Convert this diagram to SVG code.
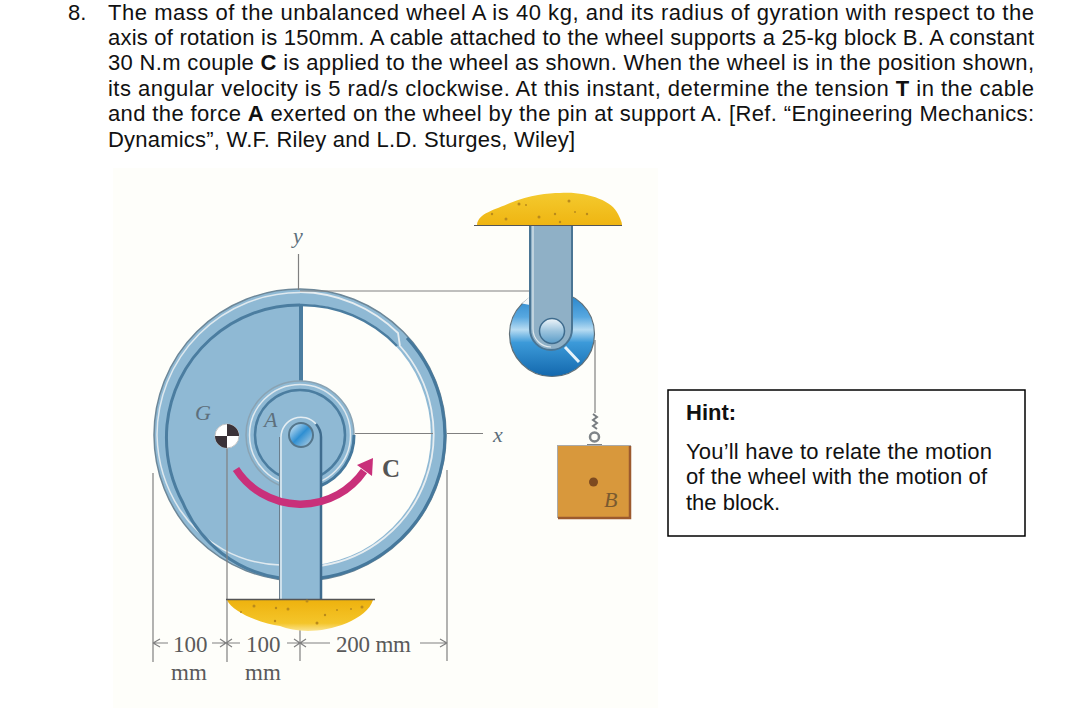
<svg xmlns="http://www.w3.org/2000/svg" width="1082" height="714" viewBox="0 0 1082 714">
<style>
.t{font-family:"Liberation Sans",Arial,sans-serif;font-size:22px;fill:#111}
.s{font-family:"Liberation Serif","Times New Roman",serif;font-style:italic;font-size:22px;fill:#5d6f7c}
.d{font-family:"Liberation Serif","Times New Roman",serif;font-size:23px;fill:#5a5a5a}
.l{fill:none;stroke:#808080;stroke-width:1.2}
.sp{fill:#b98a1c}
</style>
<defs>
<linearGradient id="sand" x1="0" y1="0" x2="0" y2="1"><stop offset="0" stop-color="#f4ca2e"/><stop offset="1" stop-color="#efb512"/></linearGradient>
<linearGradient id="sand2" x1="0" y1="0" x2="0" y2="1"><stop offset="0" stop-color="#eeb20e"/><stop offset="0.75" stop-color="#f4c52a"/><stop offset="1" stop-color="#fae38f"/></linearGradient>
<linearGradient id="pul" x1="0" y1="0" x2="0" y2="1"><stop offset="0" stop-color="#1f7fc8"/><stop offset="0.3" stop-color="#58a8e0"/><stop offset="0.45" stop-color="#b8dcf2"/><stop offset="0.6" stop-color="#3c9ad9"/><stop offset="1" stop-color="#1368ad"/></linearGradient>
<linearGradient id="pin" x1="0" y1="0" x2="1" y2="1"><stop offset="0" stop-color="#e8f4fb"/><stop offset="0.5" stop-color="#2f8fd2"/><stop offset="1" stop-color="#c2d8e6"/></linearGradient>
<linearGradient id="pin2" x1="0" y1="0" x2="0" y2="1"><stop offset="0" stop-color="#f0f6fa"/><stop offset="0.5" stop-color="#9cc4de"/><stop offset="1" stop-color="#5a9cc8"/></linearGradient>
</defs>
<rect width="1082" height="714" fill="#fff"/>
<g id="problem-text">
<text class="t" x="68" y="20">8.</text>
<text class="t" x="108" y="20" textLength="926">The mass of the unbalanced wheel A is 40 kg, and its radius of gyration with respect to the</text>
<text class="t" x="108" y="45" textLength="926">axis of rotation is 150mm. A cable attached to the wheel supports a 25-kg block B. A constant</text>
<text class="t" x="108" y="70" textLength="926">30 N.m couple <tspan font-weight="bold">C</tspan> is applied to the wheel as shown. When the wheel is in the position shown,</text>
<text class="t" x="108" y="96" textLength="926">its angular velocity is 5 rad/s clockwise. At this instant, determine the tension <tspan font-weight="bold">T</tspan> in the cable</text>
<text class="t" x="108" y="121" textLength="926">and the force <tspan font-weight="bold">A</tspan> exerted on the wheel by the pin at support A. [Ref. “Engineering Mechanics:</text>
<text class="t" x="108" y="147" textLength="467">Dynamics”, W.F. Riley and L.D. Sturges, Wiley]</text>
</g>
<rect id="photo" x="113" y="168" width="545" height="540" fill="#fefefa"/>
<g id="wheel">
<circle cx="300" cy="435" r="146" fill="#8fb9d4" stroke="#6d8798" stroke-width="1.500"/>
<path d="M300 304A131 131 0 0 1 300 566Z" fill="#fefefa"/>
<path d="M300 292.500A143 143 0 0 0 157 435A143 143 0 0 0 180 510A125 125 0 0 0 280 565" fill="none" stroke="#dfe9ef" stroke-width="1.500"/>
<path d="M300 305A133 133 0 0 0 167 425A140 140 0 0 0 183 503A125 125 0 0 0 280 578" fill="none" stroke="#4b7da0" stroke-width="3"/>
<path d="M300 305A132 132 0 0 1 397 346" fill="none" stroke="#4b7da0" stroke-width="2.500"/>
<path d="M407 338A144 144 0 0 1 320 578" fill="none" stroke="#45789c" stroke-width="3"/>
<path d="M300 292A143 143 0 0 1 398 333L400 346A133 133 0 0 1 320 566" fill="none" stroke="#e6edf1" stroke-width="1.800"/>
<path d="M301 304V382" stroke="#4b7da0" stroke-width="4" fill="none"/>
<circle cx="300" cy="435" r="54" fill="#8fb9d4" stroke="#8aa3b3" stroke-width="1.500"/>
<circle cx="300" cy="435" r="50.500" fill="none" stroke="#dfe9ef" stroke-width="1.500"/>
<circle cx="300" cy="435" r="45" fill="none" stroke="#4b7da0" stroke-width="2.500"/>
<path d="M354 435A54 54 0 0 1 320 486" fill="none" stroke="#45789c" stroke-width="3"/>
</g>
<g id="connectors">
<path class="l" d="M298.500 254V290M300 291H530M355 433.500H433M447 433.500H483M153 473V662M447 470V661M227 447V662M300 606V661"/>
<path class="l" stroke-width="1.800" d="M595 340V413"/>
<path class="l" d="M153 643H168M153 643l7-4M153 643l7 4M212 643H240M226 643l-6-4M226 643l-6 4M226 643l6-4M226 643l6 4M287 643H330M300 643l-6-4M300 643l-6 4M300 643l6-4M300 643l6 4M420 643H447M447 643l-7-4M447 643l-7 4"/>
</g>
<g id="support-a">
<path d="M280 600V437A20.500 20.500 0 0 1 321 437V600Z" fill="#8fb9d4"/>
<path d="M281 600V437A20 20 0 0 1 316 424" fill="none" stroke="#e4edf2" stroke-width="1.500"/>
<path d="M279.500 600V437" fill="none" stroke="#6b7f8e" stroke-width="1"/>
<path d="M321 600V437A20 20 0 0 0 316 424" fill="none" stroke="#3f6c8e" stroke-width="2.500"/>
<circle cx="301" cy="435" r="12" fill="url(#pin)" stroke="#54768c" stroke-width="2"/>
<path d="M227 600C232 612 262 624 280 626C295 632 320 634 347 623C360 617 370 610 373 600Z" fill="url(#sand2)"/>
<path d="M226 599.500H375" stroke="#555" stroke-width="1.500" fill="none"/>
<g class="sp"><circle cx="254" cy="606" r="1.500"/><circle cx="241" cy="612" r="1"/><circle cx="276" cy="608" r="1.200"/><circle cx="288" cy="609" r="1.500"/><circle cx="275" cy="621" r="1.200"/><circle cx="307" cy="601" r="1.500"/><circle cx="325" cy="615" r="1.200"/><circle cx="317" cy="623" r="1.500"/><circle cx="337" cy="610" r="1"/><circle cx="362" cy="607" r="1.500"/><circle cx="351" cy="609" r="1"/></g>
</g>
<g id="center-g">
<circle cx="227" cy="436" r="12" fill="#fff" stroke="#c5c5c5" stroke-width="1"/>
<path d="M227 436V424A12 12 0 0 1 239 436ZM227 436V448A12 12 0 0 1 215 436Z" fill="#3a3238"/>
<text class="s" x="195" y="420">G</text>
<text class="s" x="264" y="427">A</text>
</g>
<g id="couple-c">
<path d="M236 469A77 77 0 0 0 364 471" fill="none" stroke="#c9307a" stroke-width="7.500"/>
<path d="M373 458L372 476L357 465Z" fill="#c9307a"/>
<text x="382" y="477" font-family="Liberation Serif,serif" font-size="25" font-weight="bold" fill="#555">C</text>
</g>
<g id="axes">
<text class="s" x="293" y="243">y</text>
<text class="s" x="493" y="442">x</text>
</g>
<g id="pulley">
<circle cx="552" cy="334" r="42.500" fill="url(#pul)" stroke="#5f6f78" stroke-width="1.200"/>
<path d="M522 303.500L530 296.500V305Z" fill="#f4f8fa"/>
<path d="M565 347L579 362" stroke="#e7f3fa" stroke-width="3"/>
<path d="M530 225V329A21 21 0 0 0 572 329V225Z" fill="#8fb0c6"/>
<path d="M530 225V329A21 21 0 0 0 572 329V225" fill="none" stroke="#4a7594" stroke-width="2"/>
<path d="M533 225V329A18 18 0 0 0 551 347" fill="none" stroke="#dfe9ef" stroke-width="1.200"/>
<circle cx="552" cy="331" r="12.500" fill="url(#pin2)" stroke="#3f6c8e" stroke-width="1.500"/>
<path d="M477 225C478 213 495 210 510 203C530 195 548 193 560 193C585 191 612 200 618 214C620 218 622 222 622 225Z" fill="url(#sand)"/>
<path d="M474 225.500H622" stroke="#555" stroke-width="1.200"/>
<g class="sp"><circle cx="492" cy="214" r="1.200"/><circle cx="506" cy="219" r="1.500"/><circle cx="519" cy="204" r="1.500"/><circle cx="526" cy="205" r="1"/><circle cx="539" cy="217" r="1.500"/><circle cx="555" cy="214" r="1.200"/><circle cx="569" cy="201" r="1.500"/><circle cx="575" cy="212" r="1"/><circle cx="587" cy="214" r="1.200"/><circle cx="560" cy="222" r="1.200"/></g>
</g>
<g id="block-b">
<path d="M593 414L597 417L593 420L597 423L593 426L597 429" fill="none" stroke="#777c80" stroke-width="2"/>
<circle cx="594.500" cy="437" r="4.500" fill="none" stroke="#7f8488" stroke-width="2.500"/>
<path d="M587 445H602" stroke="#7f8488" stroke-width="2"/>
<rect x="557.500" y="445.500" width="73" height="72" fill="#d8983c" stroke="#aaa" stroke-width="1"/>
<path d="M630 446V518H558" fill="none" stroke="#9c5a2e" stroke-width="2.500"/>
<circle cx="593.500" cy="482" r="4.500" fill="#7d4a20"/>
<text x="604" y="507" font-family="Liberation Serif,serif" font-size="22" font-style="italic" fill="#7a5a30">B</text>
</g>
<g id="dims">
<text class="d" x="173" y="652">100</text>
<text class="d" x="246" y="652">100</text>
<text class="d" x="336" y="652" textLength="75">200 mm</text>
<text class="d" x="171" y="680">mm</text>
<text class="d" x="245" y="680">mm</text>
</g>
<g id="hint">
<rect x="668" y="390" width="357" height="146" fill="#fff" stroke="#000" stroke-width="1.500"/>
<text class="t" x="686" y="420" font-weight="bold">Hint:</text>
<text class="t" x="686" y="459" textLength="306">You’ll have to relate the motion</text>
<text class="t" x="686" y="484" textLength="301">of the wheel with the motion of</text>
<text class="t" x="686" y="510">the block.</text>
</g>
</svg>
